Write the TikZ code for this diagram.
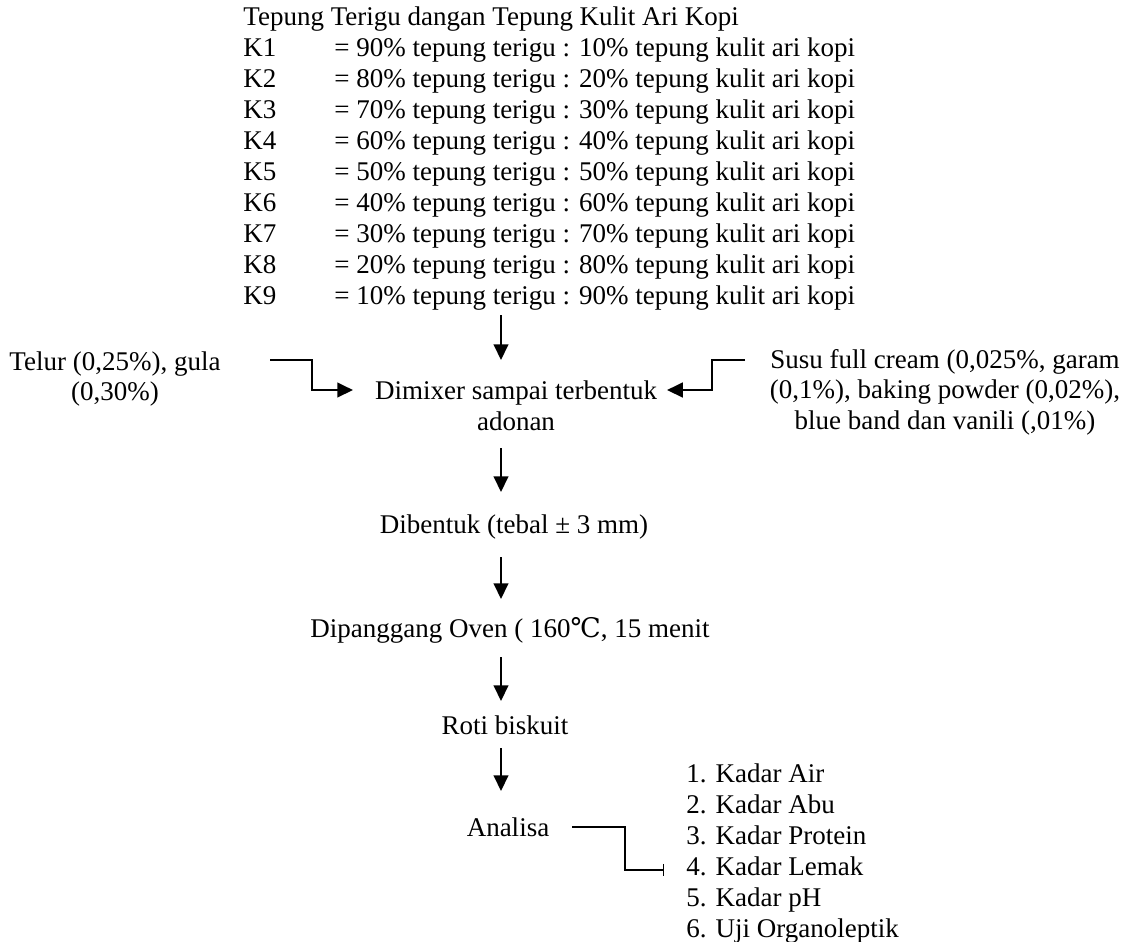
\documentclass[tikz,border=0pt]{standalone}
\usepackage{fontspec}
\setmainfont{Liberation Serif}
\newfontfamily\dvserif{DejaVu Serif}
\usetikzlibrary{arrows.meta}
\tikzset{
  txt/.style={inner sep=0pt,font=\fontsize{12}{13.6}\selectfont},
  flow/.style={line width=1.1pt,-{Triangle[length=7pt,width=6.5pt]}},
  tick/.style={line width=1.1pt,-{Bar[width=5.5pt,line width=0.5pt]}}
}
\begin{document}
\begin{tikzpicture}[x=0.4444pt,y=-0.4444pt,every node/.style={txt}]
\useasboundingbox (0,0) rectangle (1128,941);

% formulasi tepung
\node[anchor=base west] (judul) at (243,25) {Tepung Terigu dangan Tepung Kulit Ari Kopi};
\node[anchor=base west] (k1) at (243,56) {K1};
\node[anchor=base west] (r1) at (334,56) {= 90\% tepung terigu : 10\% tepung kulit ari kopi};
\node[anchor=base west] (k2) at (243,87) {K2};
\node[anchor=base west] (r2) at (334,87) {= 80\% tepung terigu : 20\% tepung kulit ari kopi};
\node[anchor=base west] (k3) at (243,118) {K3};
\node[anchor=base west] (r3) at (334,118) {= 70\% tepung terigu : 30\% tepung kulit ari kopi};
\node[anchor=base west] (k4) at (243,149) {K4};
\node[anchor=base west] (r4) at (334,149) {= 60\% tepung terigu : 40\% tepung kulit ari kopi};
\node[anchor=base west] (k5) at (243,180) {K5};
\node[anchor=base west] (r5) at (334,180) {= 50\% tepung terigu : 50\% tepung kulit ari kopi};
\node[anchor=base west] (k6) at (243,211) {K6};
\node[anchor=base west] (r6) at (334,211) {= 40\% tepung terigu : 60\% tepung kulit ari kopi};
\node[anchor=base west] (k7) at (243,242) {K7};
\node[anchor=base west] (r7) at (334,242) {= 30\% tepung terigu : 70\% tepung kulit ari kopi};
\node[anchor=base west] (k8) at (243,273) {K8};
\node[anchor=base west] (r8) at (334,273) {= 20\% tepung terigu : 80\% tepung kulit ari kopi};
\node[anchor=base west] (k9) at (243,304) {K9};
\node[anchor=base west] (r9) at (334,304) {= 10\% tepung terigu : 90\% tepung kulit ari kopi};

% bahan tambahan
\node[align=center] (telur) at (115,379) {Telur (0,25\%), gula\\(0,30\%)};
\node[align=center] (mix) at (516,406) {Dimixer sampai terbentuk\\adonan};
\node[align=center] (susu) at (945,392) {Susu full cream (0,025\%, garam\\(0,1\%), baking powder (0,02\%),\\blue band dan vanili (,01\%)};

% proses
\node (bentuk) at (514,527) {Dibentuk (tebal ± 3 mm)};
\node (oven) at (510,630) {Dipanggang Oven ( 160{\dvserif ℃}, 15 menit};
\node (roti) at (505,725) {Roti biskuit};
\node (analisa) at (508,827) {Analisa};

% parameter analisa
\node[anchor=base west] (u1) at (686,782) {1. Kadar Air};
\node[anchor=base west] (u2) at (686,813) {2. Kadar Abu};
\node[anchor=base west] (u3) at (686,844) {3. Kadar Protein};
\node[anchor=base west] (u4) at (686,875) {4. Kadar Lemak};
\node[anchor=base west] (u5) at (686,906) {5. Kadar pH};
\node[anchor=base west] (u6) at (686,937) {6. Uji Organoleptik};

% titik panah
\coordinate (a1) at (501,315);
\coordinate (b1) at (501,360);
\coordinate (a2) at (501,448);
\coordinate (b2) at (501,492);
\coordinate (a3) at (501,557);
\coordinate (b3) at (501,599);
\coordinate (a4) at (501,657);
\coordinate (b4) at (501,701);
\coordinate (a5) at (501,748);
\coordinate (b5) at (501,791);
\coordinate (kiri) at (270,360);
\coordinate (kiriT) at (353,390);
\coordinate (kanan) at (745,360);
\coordinate (kananT) at (667,390);
\coordinate (uji) at (572,827);
\coordinate (ujiT) at (664,870);

\draw[flow] (a1) -- (b1);
\draw[flow] (a2) -- (b2);
\draw[flow] (a3) -- (b3);
\draw[flow] (a4) -- (b4);
\draw[flow] (a5) -- (b5);
\draw[flow] (kiri) -- (312,360) |- (kiriT);
\draw[flow] (kanan) -- (712,360) |- (kananT);
\draw[tick] (uji) -- (625,827) |- (ujiT);
\end{tikzpicture}
\end{document}
